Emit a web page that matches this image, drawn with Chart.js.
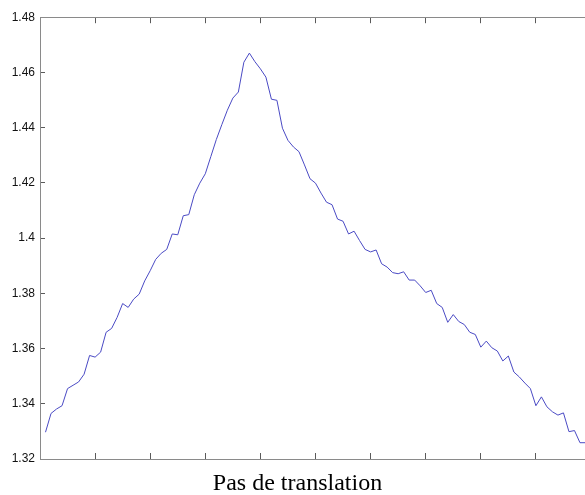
<!DOCTYPE html>
<html>
<head>
<meta charset="utf-8">
<script src="https://cdn.jsdelivr.net/npm/chart.js@4"></script>
<style>
  html, body { margin: 0; padding: 0; background: #ffffff; overflow: hidden; }
  #wrap { position: relative; width: 600px; height: 495px; }
</style>
</head>
<body>
<div id="wrap"><canvas id="c"></canvas></div>
<script>
// ---- data ----
const steps = [1,2,3,4,5,6,7,8,9,10,11,12,13,14,15,16,17,18,19,20,
  21,22,23,24,25,26,27,28,29,30,31,32,33,34,35,36,37,38,39,40,
  41,42,43,44,45,46,47,48,49,50,51,52,53,54,55,56,57,58,59,60,
  61,62,63,64,65,66,67,68,69,70,71,72,73,74,75,76,77,78,79,80,
  81,82,83,84,85,86,87,88,89,90,91,92,93,94,95,96,97,98,99];
const values = [
  1.3297,1.3365,1.3381,1.3393,1.3455,1.3467,1.3479,1.3507,1.3575,1.3569,
  1.3587,1.3659,1.3673,1.3713,1.3763,1.3749,1.3779,1.3797,1.3845,1.3882,
  1.3923,1.3945,1.3959,1.4015,1.4012,1.4081,1.4085,1.4157,1.4199,1.4233,
  1.4295,1.4357,1.4411,1.4463,1.4507,1.4529,1.4637,1.4670,1.4639,1.4613,
  1.4583,1.4503,1.4499,1.4398,1.4354,1.4330,1.4313,1.4265,1.4215,1.4199,
  1.4163,1.4130,1.4121,1.4069,1.4061,1.4015,1.4025,1.3991,1.3959,1.3950,
  1.3957,1.3907,1.3895,1.3875,1.3871,1.3878,1.3848,1.3848,1.3827,1.3803,
  1.3811,1.3763,1.3749,1.3695,1.3723,1.3698,1.3687,1.3659,1.3651,1.3605,
  1.3627,1.3603,1.3591,1.3555,1.3573,1.3515,1.3497,1.3475,1.3455,1.3393,
  1.3425,1.3389,1.3371,1.3359,1.3367,1.3299,1.3303,1.3259,1.3259];
const yTickLabels = ['1.32','1.34','1.36','1.38','1.4','1.42','1.44','1.46','1.48'];
const xLabel = 'Pas de translation';

// ---- styles ----
const AXIS = '#8a8a8a';
const TICK = '#5a5a5a';
const LINE = '#4a4ac4';

const points = steps.map((s, i) => ({ x: s, y: values[i] }));

const xTitlePlugin = {
  id: 'xTitle',
  afterDraw(chart) {
    const ctx = chart.ctx;
    ctx.save();
    ctx.font = '24px "Liberation Serif", "Times New Roman", serif';
    ctx.fillStyle = '#000000';
    ctx.textAlign = 'center';
    ctx.textBaseline = 'alphabetic';
    ctx.fillText(xLabel, 297.5, 490);
    ctx.restore();
  }
};

function hScale(pos, h) {
  return {
    type: 'linear', position: pos, min: 0, max: 100,
    ticks: { display: false, stepSize: 10 },
    grid: { drawOnChartArea: false, drawTicks: true, tickLength: -6, color: TICK, lineWidth: 1 },
    border: { display: true, color: AXIS, width: 1 },
    afterFit(s) { s.height = h; }
  };
}

new Chart(document.getElementById('c'), {
  type: 'line',
  data: {
    datasets: [{
      data: points,
      borderColor: LINE,
      borderWidth: 1,
      pointRadius: 0,
      tension: 0,
      fill: false
    }]
  },
  options: {
    responsive: true,
    maintainAspectRatio: false,
    animation: false,
    devicePixelRatio: 1,
    layout: { padding: 0 },
    plugins: { legend: { display: false }, tooltip: { enabled: false }, title: { display: false } },
    scales: {
      x: hScale('bottom', 36),
      xTop: hScale('top', 15),
      y: {
        type: 'linear', position: 'left', min: 1.32, max: 1.48,
        ticks: {
          stepSize: 0.02, padding: 10, color: '#111111',
          font: { family: '"Liberation Sans", Arial, sans-serif', size: 12 },
          callback: (v) => {
            const l = yTickLabels.find(t => Math.abs(parseFloat(t) - v) < 1e-6);
            return l === undefined ? '' : l;
          }
        },
        grid: { drawOnChartArea: false, tickLength: -5, color: TICK, lineWidth: 1 },
        border: { display: true, color: AXIS, width: 1 },
        afterFit(s) { s.width = 40; }
      },
      yRight: {
        type: 'linear', position: 'right', min: 1.32, max: 1.48,
        ticks: { display: false, stepSize: 0.02 },
        grid: { drawOnChartArea: false, tickLength: -5, color: TICK, lineWidth: 1 },
        border: { display: true, color: AXIS, width: 1 },
        afterFit(s) { s.width = 9; }
      }
    }
  },
  plugins: [xTitlePlugin]
});
</script>
</body>
</html>
